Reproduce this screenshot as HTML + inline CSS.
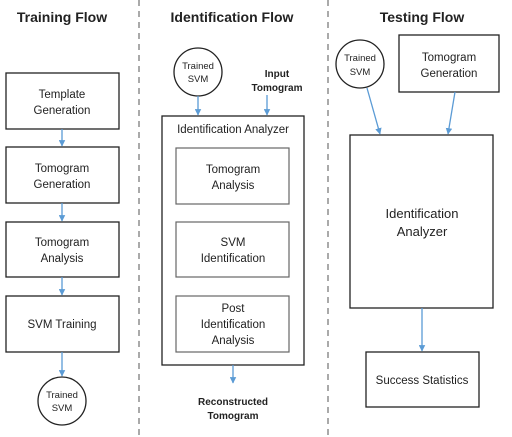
<!DOCTYPE html>
<html><head><style>
html,body{margin:0;padding:0;background:#fff}
svg{display:block}
text{font-family:"Liberation Sans",sans-serif;fill:#222}
.t{font-size:11.5px}
.b{font-weight:bold}
</style></head><body>
<svg width="512" height="437" viewBox="0 0 512 437" xmlns="http://www.w3.org/2000/svg">
<defs><marker id="a" viewBox="0 0 10 10" refX="9" refY="5" markerWidth="5" markerHeight="5" orient="auto"><path d="M0,0L10,5L0,10z" fill="#5b9bd5"/></marker></defs>
<g stroke="#aaa" stroke-width="2" stroke-dasharray="6,5"><line x1="139" y1="0" x2="139" y2="437"/><line x1="328" y1="0" x2="328" y2="437"/></g>
<text x="62" y="22" font-size="14" class="b" text-anchor="middle">Training Flow</text>
<text x="232" y="22" font-size="14" class="b" text-anchor="middle">Identification Flow</text>
<text x="422" y="22" font-size="14" class="b" text-anchor="middle">Testing Flow</text>
<g fill="none" stroke="#222" stroke-width="1.3">
<rect x="6" y="73" width="113" height="56"/><rect x="6" y="147" width="113" height="56"/><rect x="6" y="222" width="113" height="55"/><rect x="6" y="296" width="113" height="56"/>
<circle cx="62" cy="401" r="24"/>
<circle cx="198" cy="72" r="24"/>
<rect x="162" y="116" width="142" height="249"/>
<rect x="399" y="35" width="100" height="57"/>
<circle cx="360" cy="64" r="24"/>
<rect x="350" y="135" width="143" height="173"/>
<rect x="366" y="352" width="113" height="55"/>
</g>
<g fill="none" stroke="#666" stroke-width="1.2">
<rect x="176" y="148" width="113" height="56"/><rect x="176" y="222" width="113" height="55"/><rect x="176" y="296" width="113" height="56"/>
</g>
<g stroke="#5b9bd5" stroke-width="1.3" marker-end="url(#a)">
<line x1="62" y1="129" x2="62" y2="146"/><line x1="62" y1="203" x2="62" y2="221"/><line x1="62" y1="277" x2="62" y2="295"/><line x1="62" y1="352" x2="62" y2="376"/>
<line x1="198" y1="96" x2="198" y2="115"/><line x1="267" y1="95" x2="267" y2="115"/><line x1="233" y1="365" x2="233" y2="383"/>
<line x1="367" y1="88" x2="380" y2="134"/><line x1="455" y1="92" x2="448" y2="134"/><line x1="422" y1="308" x2="422" y2="351"/>
</g>
<g class="t" text-anchor="middle">
<text x="62" y="98">Template</text><text x="62" y="114">Generation</text>
<text x="62" y="172">Tomogram</text><text x="62" y="188">Generation</text>
<text x="62" y="246">Tomogram</text><text x="62" y="262">Analysis</text>
<text x="62" y="328">SVM Training</text>
<text x="62" y="398" font-size="9.5">Trained</text><text x="62" y="411" font-size="9.5">SVM</text>
<text x="198" y="69" font-size="9.5">Trained</text><text x="198" y="82" font-size="9.5">SVM</text>
<text x="277" y="77" class="b" font-size="10">Input</text><text x="277" y="91" class="b" font-size="10">Tomogram</text>
<text x="233" y="133">Identification Analyzer</text>
<text x="233" y="173">Tomogram</text><text x="233" y="189">Analysis</text>
<text x="233" y="246">SVM</text><text x="233" y="262">Identification</text>
<text x="233" y="312">Post</text><text x="233" y="328">Identification</text><text x="233" y="344">Analysis</text>
<text x="233" y="405" class="b" font-size="10">Reconstructed</text><text x="233" y="419" class="b" font-size="10">Tomogram</text>
<text x="360" y="61" font-size="9.5">Trained</text><text x="360" y="75" font-size="9.5">SVM</text>
<text x="449" y="61">Tomogram</text><text x="449" y="77">Generation</text>
<text x="422" y="218" font-size="13">Identification</text><text x="422" y="236" font-size="13">Analyzer</text>
<text x="422" y="384">Success Statistics</text>
</g>
</svg>
</body></html>
